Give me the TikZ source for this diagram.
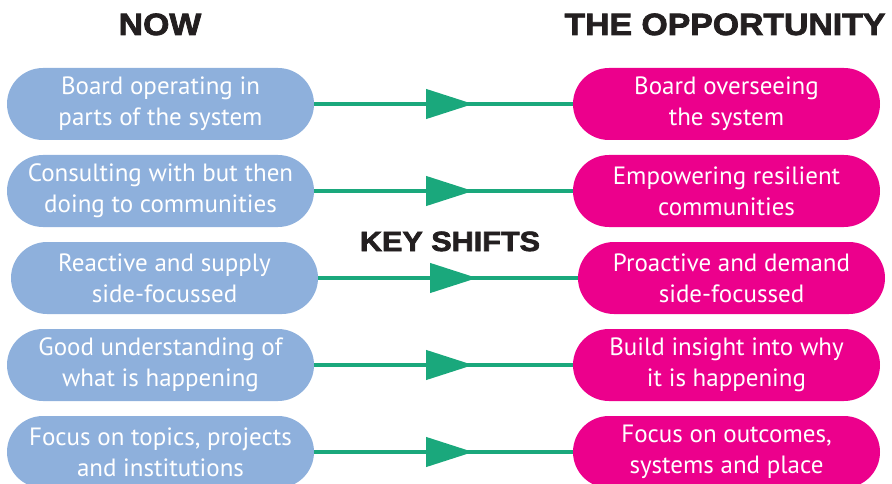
\documentclass[tikz,border=0pt]{standalone}
\usepackage{fontspec}
\setmainfont{PT Sans}
\newfontfamily\headfont[FakeStretch=1.1,BoldFeatures={FakeBold=2.5}]{Liberation Sans}
\usetikzlibrary{arrows.meta,decorations.markings}
\definecolor{nowblue}{HTML}{8EB0DC}
\definecolor{oppmag}{HTML}{EC008C}
\definecolor{shiftgreen}{HTML}{1AA87C}
\definecolor{headink}{HTML}{231F20}
\begin{document}
\begin{tikzpicture}[x=1pt,y=-1pt,
  pill/.style={rounded corners=36pt, minimum width=307pt, minimum height=72pt,
    inner sep=0pt, text=white, align=center, font=\fontsize{25}{31}\selectfont},
  nowbox/.style={pill, fill=nowblue},
  oppbox/.style={pill, fill=oppmag},
  shiftline/.style={draw=shiftgreen, line width=4pt, postaction={decorate},
    decoration={markings, mark=at position 159pt with {\arrow[shiftgreen]{Triangle[length=47pt,width=29pt]}}}},
  head/.style={text=headink, inner sep=0pt, anchor=base},
  bighead/.style={head, font=\headfont\bfseries\fontsize{30.7}{34}\selectfont},
  midhead/.style={head, font=\headfont\bfseries\fontsize{27.8}{30}\selectfont}]
\useasboundingbox (0,0) rectangle (892,484);
\clip (0,0) rectangle (892,484);

\node[bighead] (now) at (160,35) {NOW};
\node[bighead] (opp) at (725,35) {THE OPPORTUNITY};
\node[midhead] (key) at (450,251) {KEY SHIFTS};

\node[nowbox] (l1) at (160.5,104) {Board operating in\\parts of the system};
\node[nowbox] (l2) at (160.5,191) {Consulting with but then\\doing to communities};
\node[nowbox] (l3) at (164.5,278) {Reactive and supply\\side-focussed};
\node[nowbox] (l4) at (160.5,365) {Good understanding of\\what is happening};
\node[nowbox] (l5) at (160.5,452) {Focus on topics, projects\\and institutions};

\node[oppbox] (r1) at (726.5,104) {Board overseeing\\the system};
\node[oppbox] (r2) at (726.5,191) {Empowering resilient\\communities};
\node[oppbox] (r3) at (731.5,278) {Proactive and demand\\side-focussed};
\node[oppbox] (r4) at (726.5,365) {Build insight into why\\it is happening};
\node[oppbox] (r5) at (726.5,452) {Focus on outcomes,\\systems and place};

\foreach \i in {1,...,5}{
  \draw[shiftline] (l\i) -- (r\i);
}
\end{tikzpicture}
\end{document}
